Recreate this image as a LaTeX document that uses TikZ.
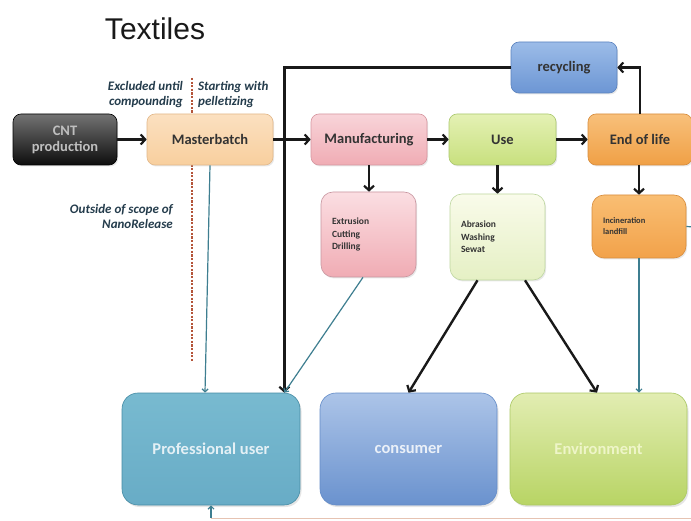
\documentclass[tikz,border=0pt]{standalone}
\usepackage{fontspec}
\setmainfont{Carlito}
\newfontfamily\titlefont{Liberation Sans}
\usetikzlibrary{arrows.meta,shadows}

\definecolor{notecol}{HTML}{243C4C}
\definecolor{thincol}{HTML}{3E7E90}
\definecolor{cutcol}{HTML}{B4553A}
\definecolor{basecol}{HTML}{E6C3B2}
\definecolor{labelcol}{HTML}{333333}
% box colours: edge, top, bottom
\definecolor{mbE}{HTML}{E2B88A}\definecolor{mbT}{HTML}{FBE0C0}\definecolor{mbB}{HTML}{F8CF9E}
\definecolor{manE}{HTML}{D696A0}\definecolor{manT}{HTML}{F8D4D9}\definecolor{manB}{HTML}{F0ACB4}
\definecolor{useE}{HTML}{AAC86E}\definecolor{useT}{HTML}{E4F1B4}\definecolor{useB}{HTML}{C8E07E}
\definecolor{eolE}{HTML}{D78C3C}\definecolor{eolT}{HTML}{F8C07A}\definecolor{eolB}{HTML}{F0A046}
\definecolor{recE}{HTML}{5A82BE}\definecolor{recT}{HTML}{9CBCE8}\definecolor{recB}{HTML}{6C96D4}
\definecolor{extE}{HTML}{C896A0}\definecolor{extT}{HTML}{FBDEE2}\definecolor{extB}{HTML}{F0ACB4}
\definecolor{abrE}{HTML}{BED7A0}\definecolor{abrT}{HTML}{F9FBEA}\definecolor{abrB}{HTML}{E5F0C4}
\definecolor{incE}{HTML}{D78C3C}\definecolor{incT}{HTML}{F9BE73}\definecolor{incB}{HTML}{F2A24A}
\definecolor{proE}{HTML}{468CA5}\definecolor{proT}{HTML}{78BAD0}\definecolor{proB}{HTML}{68ACC6}\definecolor{proX}{HTML}{E4F0F5}
\definecolor{conE}{HTML}{648CC8}\definecolor{conT}{HTML}{ACC4E8}\definecolor{conB}{HTML}{6A92CE}\definecolor{conX}{HTML}{EAF0F8}
\definecolor{envE}{HTML}{AAC864}\definecolor{envT}{HTML}{E2EDB2}\definecolor{envB}{HTML}{B8D464}\definecolor{envX}{HTML}{EEF5C8}

\tikzset{
  stage/.style={rounded corners=8pt, draw=#1, line width=0.6pt, inner sep=2pt,
    text=labelcol, font=\fontsize{14.5}{16}\selectfont\bfseries,
    drop shadow={opacity=0.18, shadow xshift=1.2pt, shadow yshift=-1.5pt}},
  detail/.style={rounded corners=12pt, draw=#1, line width=0.6pt, inner xsep=11pt,
    align=left, text=labelcol, font=\fontsize{9.5}{12.5}\selectfont\bfseries,
    drop shadow={opacity=0.18, shadow xshift=1.2pt, shadow yshift=-1.5pt}},
  target/.style={rounded corners=16pt, draw=#1, line width=0.6pt,
    font=\fontsize{16.5}{19}\selectfont\bfseries,
    drop shadow={opacity=0.2, shadow xshift=1.5pt, shadow yshift=-2pt}},
  note/.style={font=\fontsize{13}{15}\selectfont\bfseries\itshape, text=notecol, inner sep=0pt},
  flow/.style={line width=2.4pt, draw=black!90,
    -{Straight Barb[length=4.5pt,width=10pt,line width=2.2pt]}},
  feed/.style={line width=1.2pt, draw=thincol,
    -{Straight Barb[length=3pt,width=6pt,line width=1.2pt]}},
}

\begin{document}
\begin{tikzpicture}[x=1pt,y=-1pt]
\useasboundingbox (0,0) rectangle (691,521);
\fill[white] (0,0) rectangle (691,521);

% heading
\node[font=\titlefont\fontsize{30}{36}\selectfont, text=black!90] (title) at (155,29) {Textiles};

% system boundary
\draw[cutcol, line width=1.8pt, dash pattern=on 2.2pt off 1.4pt] (192,78) -- (192,362);

% main chain
\node[stage=black, shade, top color=black!55, bottom color=black!95, text=black!25,
  minimum width=104pt, minimum height=51pt, align=center] (cnt) at (65,139.5) {CNT\\production};
\node[stage=mbE, shade, top color=mbT, bottom color=mbB,
  minimum width=126pt, minimum height=51pt] (mb) at (210,139.5) {Masterbatch};
\node[stage=manE, shade, top color=manT, bottom color=manB,
  minimum width=116pt, minimum height=51pt] (man) at (369,139.5) {Manufacturing};
\node[stage=useE, shade, top color=useT, bottom color=useB,
  minimum width=107pt, minimum height=51pt] (use) at (502.5,139.5) {Use};
\node[stage=eolE, shade, top color=eolT, bottom color=eolB,
  minimum width=104pt, minimum height=51pt] (eol) at (640,139.5) {End of life};
\node[stage=recE, shade, top color=recT, bottom color=recB,
  minimum width=106pt, minimum height=51pt] (rec) at (564,67.5) {recycling};

% release scenarios
\node[detail=extE, shade, top color=extT, bottom color=extB,
  minimum height=85pt, text width=73pt] (ext) at (368.5,234.5) {Extrusion\\Cutting\\Drilling};
\node[detail=abrE, shade, top color=abrT, bottom color=abrB,
  minimum height=86pt, text width=73pt] (abr) at (497.5,237) {Abrasion\\Washing\\Sewat};
\node[detail=incE, shade, top color=incT, bottom color=incB,
  minimum height=63pt, text width=72pt, font=\fontsize{8.5}{11}\selectfont\bfseries] (inc) at (639,226.5) {Incineration\\landfill};

% receptors
\node[target=proE, shade, top color=proT, bottom color=proB, text=proX,
  minimum width=178pt, minimum height=112pt] (pro) at (211,449) {Professional user};
\node[target=conE, shade, top color=conT, bottom color=conB, text=conX,
  minimum width=177pt, minimum height=112pt] (con) at (408.5,449) {consumer};
\node[target=envE, shade, top color=envT, bottom color=envB, text=envX,
  minimum width=177pt, minimum height=112pt] (env) at (598.5,449) {Environment};

% annotations
\node[note, anchor=east, align=right] (excl) at (183,95) {Excluded until\\compounding};
\node[note, anchor=west, align=left] (start) at (198,95) {Starting with\\pelletizing};
\node[note, anchor=east, align=right] (scope) at (173,216.5) {Outside of scope of\\NanoRelease};

% life cycle flow
\draw[flow] (cnt) -- (mb);
\draw[flow] (mb) -- (man);
\draw[flow] (man) -- (use);
\draw[flow] (use) -- (eol);
\draw[flow] (eol.north) |- (rec.east);
\draw[flow] (rec.west) -| ([xshift=-16pt]pro.north east);
\draw[flow] (man.south) -- (man.south |- ext.north);
\draw[flow] (abr.north |- use.south) -- (abr.north);
\draw[flow] (inc.north |- eol.south) -- (inc.north);
\draw[flow] ([xshift=-20pt]abr.south) -- (con.north);
\draw[flow] ([xshift=27.5pt]abr.south) -- ([xshift=-1.5pt]env.north);

% thin release paths
\coordinate (offr) at (695,227);
\coordinate (offb) at (695,518);
\draw[feed] (mb.south) -- ([xshift=-6pt]pro.north);
\draw[feed] ([xshift=-5.5pt]ext.south) -- ([xshift=-16pt]pro.north east);
\draw[feed] (inc.south) -- (inc.south |- env.north);
\draw[line width=1.2pt, draw=thincol] (inc.east) -- (offr);
\draw[line width=1pt, draw=basecol] (offb) -- (pro.south |- offb);
\draw[feed] (pro.south |- offb) -- (pro.south);
\end{tikzpicture}
\end{document}
